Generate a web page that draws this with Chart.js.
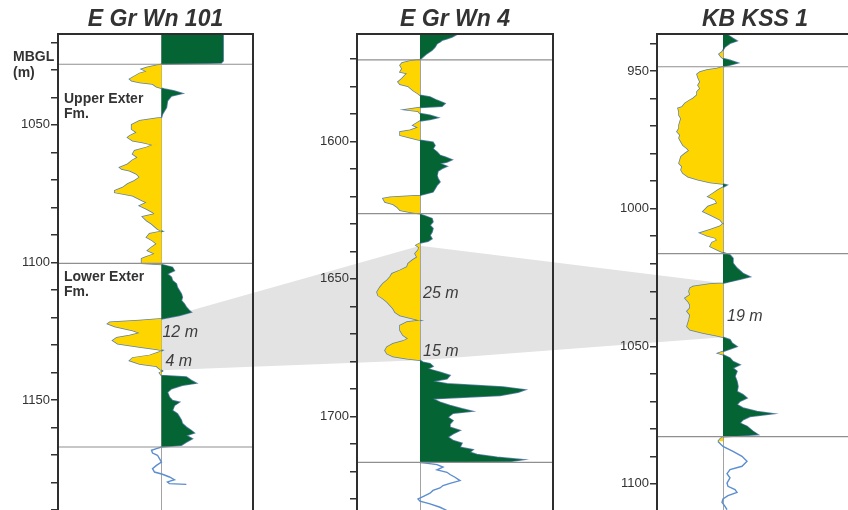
<!DOCTYPE html>
<html>
<head>
<meta charset="utf-8">
<script src="https://cdn.jsdelivr.net/npm/chart.js@4.4.1/dist/chart.umd.min.js"></script>
<style>
html, body { margin: 0; padding: 0; background: #fff; overflow: hidden; }
#wrap { position: relative; width: 848px; height: 510px; overflow: hidden; }
#band { position: absolute; left: 0; top: 0; }
.well { position: absolute; top: 0; }
</style>
</head>
<body>
<div id="wrap">
  <canvas id="band" width="848" height="510"></canvas>
  <canvas id="well1" class="well" style="left:0px" width="290" height="510"></canvas>
  <canvas id="well2" class="well" style="left:290px" width="300" height="510"></canvas>
  <canvas id="well3" class="well" style="left:590px" width="300" height="510"></canvas>
</div>
<script>
const FONT = '"Liberation Sans", Arial, Helvetica, sans-serif';
const YELLOW = '#ffd500';
const GREEN = '#056434';

// well names, gamma ray cutoff (sand / shale) and depth window (m below ground level)
const WELL_NAMES = ['E Gr Wn 101', 'E Gr Wn 4', 'KB KSS 1'];
const GR_CUTOFF = [104, 63, 66];
const DEPTH_MIN = [1017, 1561, 936.5];
const DEPTH_MAX = [1190, 1734, 1109.5];

// E Gr Wn 101 gamma ray log
const DEPTH_101 = [
  1017.0, 1026.8, 1027.5, 1028.0, 1029.2, 1029.8, 1030.6, 1031.3, 1033.4, 1034.0,
  1034.6, 1035.2, 1036.2, 1036.7, 1037.0, 1037.7, 1038.6, 1039.5, 1041.3, 1043.7,
  1046.1, 1047.4, 1047.6, 1048.5, 1050.0, 1051.6, 1052.8, 1054.0, 1054.6, 1055.8,
  1056.4, 1057.3, 1058.2, 1059.4, 1060.6, 1061.9, 1062.8, 1064.3, 1065.5, 1066.1,
  1066.7, 1067.9, 1069.1, 1070.3, 1071.5, 1072.8, 1074.0, 1074.6, 1075.8, 1077.6,
  1078.2, 1079.4, 1080.6, 1081.8, 1082.4, 1083.4, 1084.8, 1086.0, 1087.9, 1088.7,
  1089.6, 1090.9, 1092.1, 1093.3, 1094.5, 1095.7, 1096.9, 1098.2, 1098.7, 1100.3,
  1100.8, 1101.8, 1103.0, 1104.2, 1105.4, 1106.6, 1107.8, 1109.1, 1110.3, 1111.5,
  1112.7, 1113.9, 1115.1, 1116.3, 1117.5, 1118.1, 1119.3, 1120.5, 1121.1, 1121.8,
  1122.3, 1123.3, 1124.8, 1125.7, 1126.6, 1127.4, 1128.4, 1129.6, 1130.8, 1131.7,
  1132.0, 1132.6, 1133.8, 1134.7, 1135.7, 1136.9, 1137.8, 1138.7, 1139.5, 1140.2,
  1141.1, 1141.7, 1142.9, 1143.9, 1144.7, 1145.9, 1147.2, 1149.0, 1150.2, 1150.8,
  1152.0, 1153.8, 1155.0, 1156.2, 1157.4, 1158.6, 1159.9, 1161.1, 1162.0, 1162.9,
  1164.1, 1165.3, 1166.5, 1167.1, 1167.7, 1168.3, 1169.3, 1170.1, 1171.3, 1172.6,
  1173.8, 1175.0, 1176.2, 1177.0, 1178.0, 1179.0, 1179.8, 1180.4, 1180.7
];
const GR_101 = [
  166, 166, 164, 104, 89, 84, 89, 82, 72, 74,
  82, 95, 99, 104, 107, 117, 125, 114, 110, 109,
  105, 104, 99, 82, 74, 74, 79, 72, 70, 75,
  85, 95, 89, 77, 75, 80, 75, 70, 62, 64,
  72, 79, 82, 77, 70, 65, 57, 57, 75, 85,
  89, 82, 89, 95, 97, 85, 89, 94, 100, 105,
  92, 89, 95, 99, 94, 90, 97, 87, 84, 84,
  104, 115, 117, 110, 114, 115, 119, 120, 122, 124,
  125, 124, 127, 129, 132, 134, 122, 105, 82, 52,
  50, 57, 75, 82, 72, 59, 55, 60, 82, 100,
  105, 102, 92, 75, 72, 82, 99, 102, 105, 102,
  104, 129, 134, 139, 125, 114, 110, 112, 115, 122,
  117, 115, 120, 122, 124, 125, 129, 134, 137, 129,
  135, 129, 124, 104, 99, 94, 95, 100, 102, 104,
  99, 95, 97, 105, 112, 117, 110, 112, 129
];

// E Gr Wn 4 gamma ray log
const DEPTH_4 = [
  1561.1, 1562.1, 1562.7, 1563.3, 1563.9, 1564.5, 1565.7, 1566.9, 1568.1, 1569.3,
  1570.3, 1570.8, 1571.5, 1572.4, 1573.6, 1574.8, 1575.4, 1576.0, 1577.2, 1578.4,
  1579.3, 1580.0, 1581.5, 1582.7, 1583.3, 1583.9, 1585.1, 1586.3, 1587.3, 1587.7,
  1588.5, 1589.1, 1589.9, 1590.5, 1591.4, 1592.1, 1592.6, 1593.3, 1594.2, 1595.0,
  1596.0, 1596.6, 1597.8, 1598.7, 1599.6, 1600.3, 1601.5, 1602.7, 1603.9, 1605.1,
  1605.7, 1606.7, 1607.5, 1608.1, 1609.1, 1609.9, 1610.8, 1612.4, 1613.6, 1614.8,
  1616.0, 1617.2, 1618.4, 1619.3, 1619.7, 1620.3, 1620.8, 1622.1, 1622.9, 1623.9,
  1625.1, 1625.8, 1626.3, 1626.9, 1628.1, 1629.3, 1630.5, 1631.7, 1633.0, 1634.2,
  1635.4, 1636.3, 1637.0, 1637.8, 1638.6, 1639.6, 1640.8, 1642.1, 1643.3, 1644.5,
  1645.7, 1646.9, 1648.1, 1649.3, 1650.5, 1651.7, 1653.0, 1654.8, 1656.0, 1657.2,
  1658.4, 1659.6, 1660.8, 1662.1, 1663.3, 1664.5, 1665.1, 1665.7, 1666.9, 1668.7,
  1670.5, 1671.7, 1672.6, 1673.6, 1674.8, 1676.0, 1677.2, 1678.2, 1679.0, 1679.6,
  1680.3, 1680.8, 1681.8, 1682.7, 1683.9, 1685.1, 1686.3, 1687.2, 1688.1, 1689.3,
  1690.3, 1691.2, 1692.4, 1693.6, 1694.8, 1696.0, 1697.2, 1698.1, 1698.8, 1700.3,
  1701.5, 1702.7, 1703.9, 1705.1, 1706.3, 1707.5, 1708.7, 1709.7, 1711.2, 1712.1,
  1713.0, 1713.8, 1714.8, 1715.7, 1716.4, 1716.7, 1717.5, 1718.4, 1719.4, 1720.3,
  1721.1, 1722.1, 1723.3, 1724.3, 1725.1, 1726.0, 1726.9, 1727.9, 1729.1, 1730.0,
  1730.8, 1731.8, 1733.0, 1734.2
];
const GR_4 = [
  100, 95, 90, 85, 83, 80, 78, 75, 70, 66,
  63, 53, 45, 43, 45, 43, 50, 48, 45, 41,
  43, 51, 56, 61, 63, 73, 80, 88, 85, 63,
  48, 61, 63, 73, 81, 73, 63, 60, 56, 61,
  53, 43, 43, 53, 63, 76, 78, 76, 80, 83,
  88, 95, 90, 83, 90, 85, 81, 80, 81, 83,
  80, 78, 76, 66, 63, 33, 26, 28, 36, 40,
  43, 53, 63, 66, 75, 76, 73, 76, 75, 73,
  75, 71, 63, 59, 62, 61, 58, 60, 55, 51,
  50, 43, 35, 33, 30, 26, 23, 20, 21, 26,
  30, 33, 36, 38, 43, 56, 63, 50, 43, 43,
  46, 51, 46, 36, 30, 28, 30, 36, 50, 63,
  66, 73, 76, 71, 83, 93, 90, 76, 90, 146,
  168, 161, 143, 76, 83, 93, 105, 115, 96, 91,
  96, 93, 93, 103, 96, 91, 96, 105, 103, 116,
  113, 120, 140, 166, 153, 63, 80, 86, 80, 90,
  93, 98, 103, 93, 86, 83, 76, 73, 66, 61,
  63, 73, 83, 90
];

// KB KSS 1 gamma ray log
const DEPTH_KSS1 = [
  936.6, 936.9, 938.1, 939.0, 939.9, 941.2, 942.4, 943.0, 943.8, 944.8,
  945.4, 946.0, 947.0, 947.8, 948.4, 949.0, 949.6, 950.3, 951.1, 952.3,
  953.9, 955.1, 956.3, 957.5, 958.7, 959.9, 960.5, 961.7, 963.0, 963.5,
  964.8, 966.0, 967.2, 968.4, 969.6, 970.8, 972.0, 973.2, 974.4, 975.7,
  976.9, 978.1, 978.9, 979.9, 981.1, 982.3, 983.5, 984.7, 985.9, 987.1,
  988.4, 989.5, 990.5, 991.0, 991.4, 992.2, 993.2, 994.4, 995.6, 996.7,
  998.0, 999.2, 1001.0, 1002.2, 1004.0, 1005.4, 1006.4, 1007.6, 1008.8, 1009.8,
  1010.6, 1011.5, 1012.3, 1013.7, 1014.9, 1015.9, 1016.8, 1018.0, 1019.8, 1021.6,
  1023.5, 1024.7, 1025.6, 1026.5, 1027.1, 1027.4, 1028.3, 1028.9, 1030.1, 1031.3,
  1032.5, 1033.7, 1034.9, 1036.1, 1037.3, 1038.6, 1040.4, 1041.6, 1042.8, 1044.0,
  1045.2, 1046.2, 1046.7, 1047.6, 1048.8, 1050.1, 1051.0, 1051.9, 1052.5, 1053.1,
  1054.3, 1055.5, 1056.7, 1057.9, 1059.1, 1060.9, 1062.8, 1064.6, 1066.4, 1067.6,
  1068.8, 1070.0, 1071.2, 1072.4, 1073.7, 1074.5, 1075.5, 1076.7, 1077.9, 1079.1,
  1080.9, 1082.1, 1082.7, 1082.9, 1083.7, 1084.6, 1086.4, 1088.2, 1090.0, 1091.8,
  1093.6, 1094.8, 1096.3, 1097.8, 1099.7, 1100.9, 1102.1, 1103.1, 1104.3, 1105.5,
  1106.7, 1108.2, 1109.4
];
const GR_KSS1 = [
  66, 71, 76, 80, 73, 68, 66, 65, 62, 64,
  66, 73, 81, 73, 66, 60, 50, 43, 40, 41,
  43, 41, 43, 40, 40, 36, 33, 28, 25, 21,
  22, 22, 24, 23, 22, 22, 20, 23, 22, 24,
  26, 30, 32, 28, 24, 23, 22, 25, 24, 26,
  31, 41, 53, 66, 70, 66, 61, 56, 51, 58,
  60, 51, 46, 53, 63, 66, 63, 53, 43, 50,
  58, 60, 55, 53, 60, 66, 73, 76, 76, 80,
  86, 93, 83, 73, 66, 53, 36, 33, 32, 33,
  28, 31, 33, 33, 30, 33, 32, 31, 30, 33,
  46, 60, 66, 73, 75, 80, 73, 66, 61, 66,
  73, 76, 83, 76, 80, 78, 80, 81, 80, 86,
  90, 83, 80, 86, 100, 116, 93, 86, 83, 90,
  96, 101, 76, 66, 63, 61, 66, 76, 85, 90,
  85, 73, 70, 73, 70, 71, 78, 80, 71, 66,
  65, 68, 70
];

// formation tops, base of the shaded log, correlated sand package
const TOPS = [[1028.0, 1100.4, 1167.1], [1570.4, 1626.3, 1716.7], [948.4, 1016.3, 1082.8]];
const FILL_BASE = [1167.1, 1716.7, 1084.6];
const SAND_TOP = [1120.5, 1638.0, 1027.1];
const SAND_BASE = [1139.2, 1679.6, 1046.7];

// sand thickness labels: text, depth, gr position
const THICK_TEXT = [['12 m', '4 m'], ['25 m', '15 m'], ['19 m']];
const THICK_DEPTH = [[1125.5, 1136.0], [1655.5, 1676.4], [1039.3]];
const THICK_GR = [[105, 108], [66, 66], [70]];

const FORMATIONS = [
  { lines: ['Upper Exter', 'Fm.'], depth: 1041.9 },
  { lines: ['Lower Exter', 'Fm.'], depth: 1106.6 }
];

const logDecor = {
  id: 'logDecor',
  beforeDatasetsDraw(chart, args, o) {
    const { ctx, chartArea: a, scales: { x } } = chart;
    const bx = Math.round(x.getPixelForValue(o.cutoff)) + 0.5;
    ctx.save();
    ctx.strokeStyle = '#a3a3a3';
    ctx.lineWidth = 1;
    ctx.beginPath();
    ctx.moveTo(bx, a.top);
    ctx.lineTo(bx, a.bottom);
    ctx.stroke();
    ctx.restore();
  },
  afterDatasetsDraw(chart, args, o) {
    const { ctx, chartArea: a, scales: { x, y } } = chart;
    ctx.save();
    ctx.strokeStyle = '#8f8f8f';
    ctx.lineWidth = 1.2;
    o.tops.forEach(d => {
      const py = y.getPixelForValue(d);
      ctx.beginPath();
      ctx.moveTo(a.left, py);
      ctx.lineTo(a.right, py);
      ctx.stroke();
    });

    // panel frame
    ctx.strokeStyle = '#2e2e2e';
    ctx.lineWidth = 2;
    ctx.beginPath();
    ctx.moveTo(a.left, a.bottom + 2);
    ctx.lineTo(a.left, a.top);
    ctx.lineTo(a.right, a.top);
    ctx.lineTo(a.right, a.bottom + 2);
    ctx.stroke();

    ctx.fillStyle = '#3c3c3c';
    ctx.font = 'italic 16px ' + FONT;
    ctx.textBaseline = 'middle';
    ctx.textAlign = 'left';
    o.thickText.forEach((t, i) => {
      ctx.fillText(t, x.getPixelForValue(o.thickGr[i]), y.getPixelForValue(o.thickDepth[i]));
    });

    ctx.fillStyle = '#333';
    ctx.font = 'bold 14px ' + FONT;
    ctx.textBaseline = 'alphabetic';
    o.formations.forEach(f => {
      f.lines.forEach((s, i) => ctx.fillText(s, a.left + 6, y.getPixelForValue(f.depth) + i * 15));
    });
    if (o.unitLabel) {
      ctx.fillText('MBGL', a.left - 45, a.top + 27);
      ctx.fillText('(m)', a.left - 45, a.top + 43);
    }
    ctx.restore();
  }
};

function makeWell(i, canvasId, depth, gr, axisWidth) {
  const cutoff = GR_CUTOFF[i];
  const pts = depth.map((d, k) => ({ x: gr[k], y: d }));
  const shaded = pts.filter(p => p.y <= FILL_BASE[i]);
  const below = pts.filter(p => p.y >= FILL_BASE[i]);

  return new Chart(document.getElementById(canvasId), {
    type: 'line',
    data: {
      datasets: [
        {
          data: shaded.map(p => ({ x: Math.min(p.x, cutoff), y: p.y })),
          fill: { value: cutoff },
          backgroundColor: YELLOW,
          borderColor: 'transparent',
          borderWidth: 0,
          pointRadius: 0
        },
        {
          data: shaded.map(p => ({ x: Math.max(p.x, cutoff), y: p.y })),
          fill: { value: cutoff },
          backgroundColor: GREEN,
          borderColor: 'transparent',
          borderWidth: 0,
          pointRadius: 0
        },
        {
          data: shaded,
          fill: false,
          borderColor: '#5d80ad',
          borderWidth: 1.5,
          pointRadius: 0
        },
        {
          data: below,
          fill: false,
          borderColor: '#5b8dd0',
          borderWidth: 1.4,
          pointRadius: 0
        }
      ]
    },
    options: {
      indexAxis: 'y',
      responsive: false,
      animation: false,
      events: [],
      layout: { padding: { left: 0, right: 37, top: 0, bottom: 0 } },
      elements: { line: { tension: 0 } },
      scales: {
        x: { type: 'linear', display: false, min: 0, max: 196 },
        y: {
          type: 'linear',
          reverse: true,
          min: DEPTH_MIN[i],
          max: DEPTH_MAX[i],
          border: { display: false },
          grid: { drawOnChartArea: false, drawTicks: true, tickLength: 7, color: '#333', lineWidth: 1.5 },
          ticks: {
            stepSize: 10,
            includeBounds: false,
            autoSkip: false,
            padding: 1,
            color: '#333',
            font: { family: FONT, size: 13 },
            callback: v => (v % 50 === 0 ? String(v) : '')
          },
          afterFit: s => {
            s.width = axisWidth;
            s.paddingTop = 0;
            s.paddingBottom = 0;
          }
        }
      },
      plugins: {
        legend: { display: false },
        tooltip: { enabled: false },
        title: {
          display: true,
          text: WELL_NAMES[i],
          fullSize: false,
          color: '#333',
          font: { family: FONT, size: 23, weight: 'bold', style: 'italic' },
          padding: { top: 6, bottom: 0.4 }
        },
        logDecor: {
          cutoff: cutoff,
          tops: TOPS[i],
          thickText: THICK_TEXT[i],
          thickDepth: THICK_DEPTH[i],
          thickGr: THICK_GR[i],
          formations: i === 0 ? FORMATIONS : [],
          unitLabel: i === 0
        }
      }
    },
    plugins: [logDecor]
  });
}

const charts = [
  makeWell(0, 'well1', DEPTH_101, GR_101, 58),
  makeWell(1, 'well2', DEPTH_4, GR_4, 67),
  makeWell(2, 'well3', DEPTH_KSS1, GR_KSS1, 67)
];

// grey correlation band between the sand packages, drawn behind the logs
function drawBand() {
  const ctx = document.getElementById('band').getContext('2d');
  const upper = [], lower = [];
  charts.forEach((c, i) => {
    const off = c.canvas.offsetLeft;
    const bx = off + c.scales.x.getPixelForValue(GR_CUTOFF[i]);
    upper.push([bx, c.scales.y.getPixelForValue(SAND_TOP[i])]);
    lower.push([bx, c.scales.y.getPixelForValue(SAND_BASE[i])]);
  });
  const poly = upper.concat(lower.reverse());
  ctx.fillStyle = '#e3e3e3';
  ctx.beginPath();
  poly.forEach((p, k) => (k ? ctx.lineTo(p[0], p[1]) : ctx.moveTo(p[0], p[1])));
  ctx.closePath();
  ctx.fill();
}
drawBand();
</script>
</body>
</html>
